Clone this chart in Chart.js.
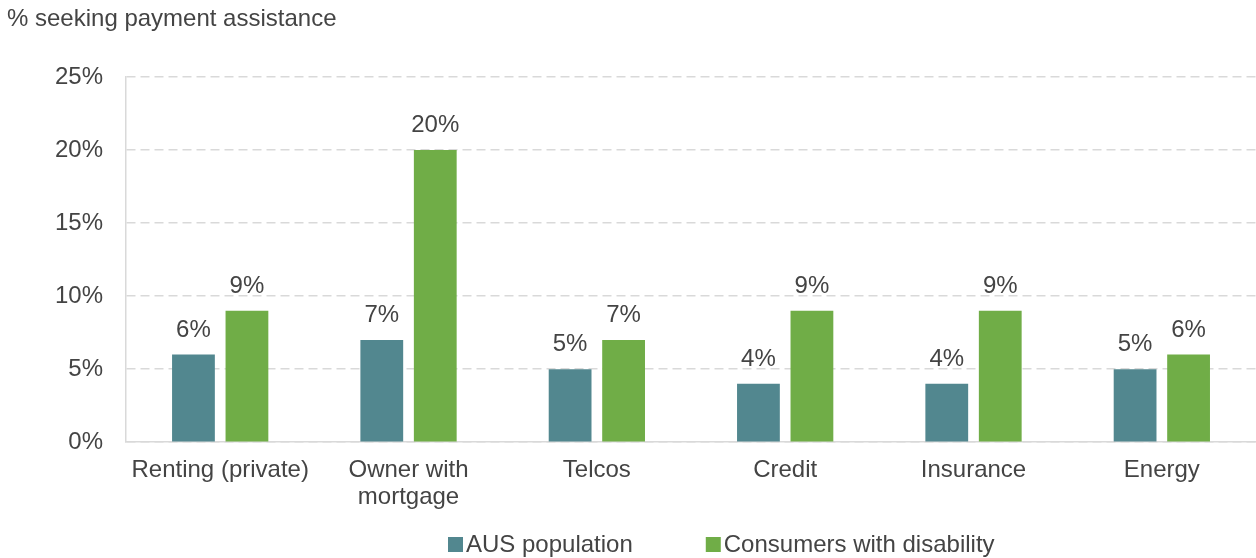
<!DOCTYPE html>
<html lang="en">
<head>
    <meta charset="UTF-8">
    <script src="https://cdn.jsdelivr.net/npm/chart.js"></script>
    <title>Payment assistance</title>
    <style>
        html, body { margin: 0; padding: 0; background: #fff; }
        #wrap { position: relative; width: 1256px; height: 558px; }
    </style>
</head>
<body>
    <div id="wrap">
        <canvas id="chartAssist" width="1256" height="558"></canvas>
    </div>

    <script>
        var categories = ['Renting (private)', ['Owner with', 'mortgage'], 'Telcos', 'Credit', 'Insurance', 'Energy'];
        var ausPopulation = [6, 7, 5, 4, 4, 5];
        var withDisability = [9, 20, 7, 9, 9, 6];
        var seriesNames = ['AUS population', 'Consumers with disability'];
        var yTicks = [0, 5, 10, 15, 20, 25];
        var axisTitle = '% seeking payment assistance';

        var FONT = "'Liberation Sans', Arial, sans-serif";
        var SIZE = 24;
        var TEXT = '#444444';

        // value labels above each bar
        var barLabels = {
            id: 'barLabels',
            afterDatasetsDraw: function(chart) {
                var ctx = chart.ctx;
                ctx.save();
                ctx.font = SIZE + 'px ' + FONT;
                ctx.fillStyle = TEXT;
                ctx.textAlign = 'center';
                ctx.textBaseline = 'alphabetic';
                chart.data.datasets.forEach(function(ds, i) {
                    chart.getDatasetMeta(i).data.forEach(function(bar, j) {
                        ctx.fillText(ds.data[j] + '%', bar.x, bar.y - 18);
                    });
                });
                ctx.restore();
            }
        };

        // top-left axis caption and bottom legend
        var extras = {
            id: 'extras',
            afterDraw: function(chart) {
                var ctx = chart.ctx;
                ctx.save();
                ctx.font = SIZE + 'px ' + FONT;
                ctx.fillStyle = TEXT;
                ctx.textBaseline = 'middle';
                ctx.textAlign = 'left';
                ctx.fillText(axisTitle, 7, 19);

                var y = 544;
                var x = 448;
                chart.data.datasets.forEach(function(ds) {
                    ctx.fillStyle = ds.backgroundColor;
                    ctx.fillRect(x, y - 7, 15, 15);
                    ctx.fillStyle = TEXT;
                    ctx.fillText(ds.label, x + 18, y + 1);
                    x += 18 + ctx.measureText(ds.label).width + 73;
                });
                ctx.restore();
            }
        };

        var ctxAssist = document.getElementById('chartAssist').getContext('2d');
        var chartAssist = new Chart(ctxAssist, {
            type: 'bar',
            data: {
                labels: categories,
                datasets: [{
                    label: seriesNames[0],
                    data: ausPopulation,
                    backgroundColor: '#52878f',
                    categoryPercentage: 0.568,
                    barPercentage: 0.8
                }, {
                    label: seriesNames[1],
                    data: withDisability,
                    backgroundColor: '#70ad47',
                    categoryPercentage: 0.568,
                    barPercentage: 0.8
                }]
            },
            options: {
                responsive: false,
                animation: false,
                layout: {
                    padding: { top: 77, left: 32, right: 0, bottom: 32 }
                },
                plugins: {
                    legend: { display: false },
                    tooltip: { enabled: false }
                },
                scales: {
                    x: {
                        grid: { display: false, drawTicks: false },
                        border: { color: '#d9d9d9', width: 1.5 },
                        ticks: {
                            font: { family: FONT, size: SIZE, lineHeight: 1.12 },
                            color: TEXT,
                            padding: 15,
                            maxRotation: 0,
                            autoSkip: false
                        }
                    },
                    y: {
                        min: 0,
                        max: 25,
                        afterBuildTicks: function(axis) {
                            axis.ticks = yTicks.map(function(v) { return { value: v }; });
                        },
                        grid: {
                            color: '#d9d9d9',
                            lineWidth: 1.5,
                            drawTicks: false
                        },
                        border: { display: true, color: '#d9d9d9', width: 1.5, dash: [9, 5] },
                        ticks: {
                            font: { family: FONT, size: SIZE },
                            color: TEXT,
                            padding: 23,
                            callback: function(v) { return v + '%'; }
                        }
                    }
                }
            },
            plugins: [barLabels, extras]
        });
    </script>
</body>
</html>
